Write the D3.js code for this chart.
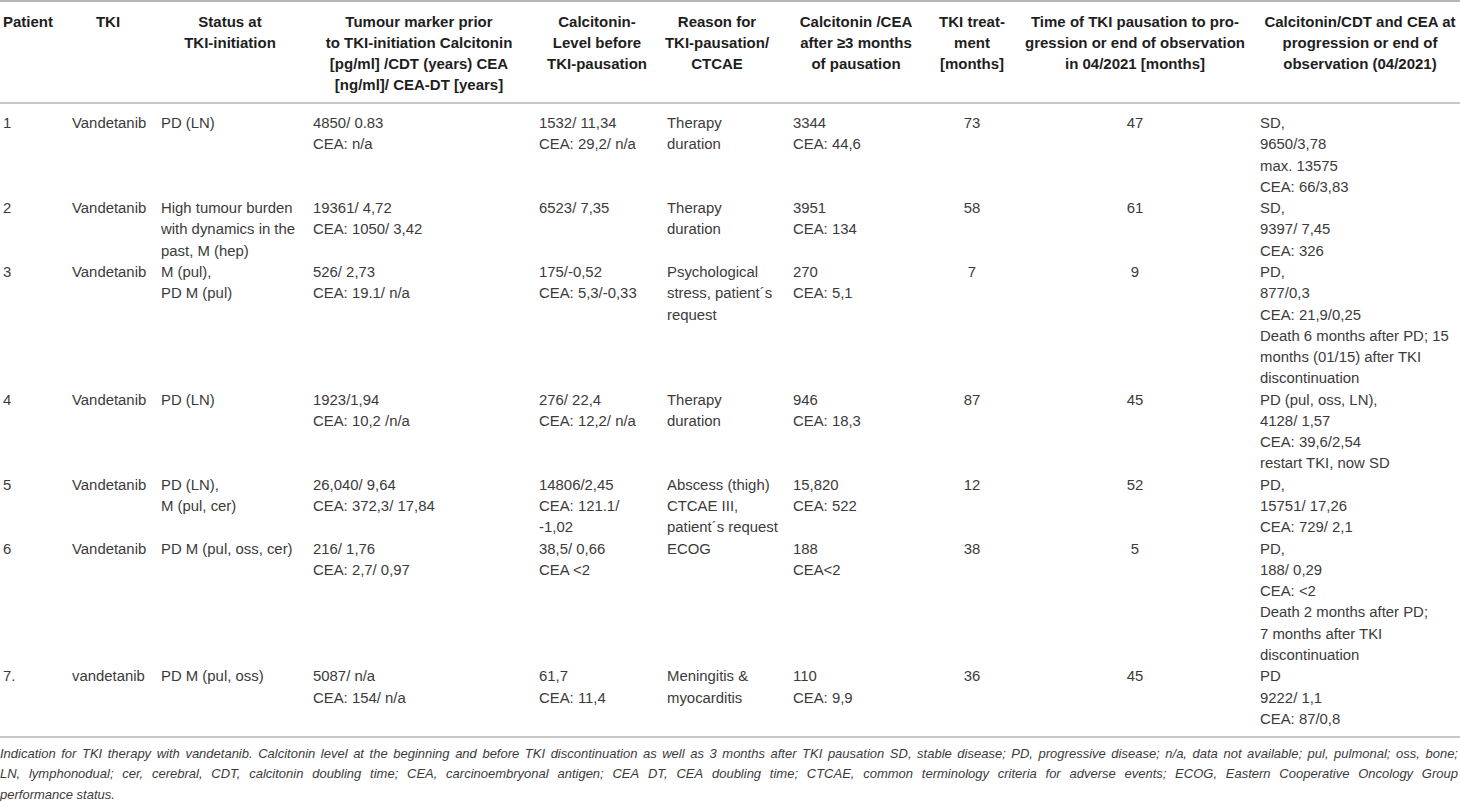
<!DOCTYPE html>
<html>
<head>
<meta charset="utf-8">
<script src="https://cdn.jsdelivr.net/npm/d3@7"></script>
<style>
  html, body { margin: 0; padding: 0; background: #fff; }
  svg { display: block; font-family: "Liberation Sans", Arial, sans-serif; }
</style>
</head>
<body>
<div id="table"></div>
<script>
// header lines per column
var headers = [
  ['Patient'],
  ['TKI'],
  ['Status at', 'TKI-initiation'],
  ['Tumour marker prior', 'to TKI-initiation Calcitonin', '[pg/ml] /CDT (years) CEA', '[ng/ml]/ CEA-DT [years]'],
  ['Calcitonin-', 'Level before', 'TKI-pausation'],
  ['Reason for', 'TKI-pausation/', 'CTCAE'],
  ['Calcitonin /CEA', 'after \u22653 months', 'of pausation'],
  ['TKI treat-', 'ment', '[months]'],
  ['Time of TKI pausation to pro-', 'gression or end of observation', 'in 04/2021 [months]'],
  ['Calcitonin/CDT and CEA at', 'progression or end of', 'observation (04/2021)']
]

// one array per column, one entry per patient
var patients = ['1', '2', '3', '4', '5', '6', '7.']
var tki = ['Vandetanib', 'Vandetanib', 'Vandetanib', 'Vandetanib', 'Vandetanib', 'Vandetanib', 'vandetanib']
var statusInit = [
  ['PD (LN)'],
  ['High tumour burden', 'with dynamics in the', 'past, M (hep)'],
  ['M (pul),', 'PD M (pul)'],
  ['PD (LN)'],
  ['PD (LN),', 'M (pul, cer)'],
  ['PD M (pul, oss, cer)'],
  ['PD M (pul, oss)']
]
var markerPrior = [
  ['4850/ 0.83', 'CEA: n/a'],
  ['19361/ 4,72', 'CEA: 1050/ 3,42'],
  ['526/ 2,73', 'CEA: 19.1/ n/a'],
  ['1923/1,94', 'CEA: 10,2 /n/a'],
  ['26,040/ 9,64', 'CEA: 372,3/ 17,84'],
  ['216/ 1,76', 'CEA: 2,7/ 0,97'],
  ['5087/ n/a', 'CEA: 154/ n/a']
]
var calcBefore = [
  ['1532/ 11,34', 'CEA: 29,2/ n/a'],
  ['6523/ 7,35'],
  ['175/-0,52', 'CEA: 5,3/-0,33'],
  ['276/ 22,4', 'CEA: 12,2/ n/a'],
  ['14806/2,45', 'CEA: 121.1/', '-1,02'],
  ['38,5/ 0,66', 'CEA <2'],
  ['61,7', 'CEA: 11,4']
]
var reason = [
  ['Therapy', 'duration'],
  ['Therapy', 'duration'],
  ['Psychological', 'stress, patient\u00b4s', 'request'],
  ['Therapy', 'duration'],
  ['Abscess (thigh)', 'CTCAE III,', 'patient\u00b4s request'],
  ['ECOG'],
  ['Meningitis &', 'myocarditis']
]
var calcAfter = [
  ['3344', 'CEA: 44,6'],
  ['3951', 'CEA: 134'],
  ['270', 'CEA: 5,1'],
  ['946', 'CEA: 18,3'],
  ['15,820', 'CEA: 522'],
  ['188', 'CEA<2'],
  ['110', 'CEA: 9,9']
]
var tkiMonths = [73, 58, 7, 87, 12, 38, 36]
var pauseMonths = [47, 61, 9, 45, 52, 5, 45]
var endStatus = [
  ['SD,', '9650/3,78', 'max. 13575', 'CEA: 66/3,83'],
  ['SD,', '9397/ 7,45', 'CEA: 326'],
  ['PD,', '877/0,3', 'CEA: 21,9/0,25', 'Death 6 months after PD; 15', 'months (01/15) after TKI', 'discontinuation'],
  ['PD (pul, oss, LN),', '4128/ 1,57', 'CEA: 39,6/2,54', 'restart TKI, now SD'],
  ['PD,', '15751/ 17,26', 'CEA: 729/ 2,1'],
  ['PD,', '188/ 0,29', 'CEA: <2', 'Death 2 months after PD;', '7 months after TKI', 'discontinuation'],
  ['PD', '9222/ 1,1', 'CEA: 87/0,8']
]

var footnote = [
  'Indication for TKI therapy with vandetanib. Calcitonin level at the beginning and before TKI discontinuation as well as 3 months after TKI pausation SD, stable disease; PD, progressive disease; n/a, data not available; pul, pulmonal; oss, bone;',
  'LN, lymphonodual; cer, cerebral, CDT, calcitonin doubling time; CEA, carcinoembryonal antigen; CEA DT, CEA doubling time; CTCAE, common terminology criteria for adverse events; ECOG, Eastern Cooperative Oncology Group',
  'performance status.'
]

var width = 1460, height = 801
var lineH = 21.28
var ruleColor = '#b4b4b4'
var textColor = '#3b3b3b'

// column layout: where body text sits and where the header is centred
var cols = [
  {data: patients,    x: 3,    hx: 3,    anchor: 'start', hanchor: 'start'},
  {data: tki,         x: 72,   hx: 108,  anchor: 'start'},
  {data: statusInit,  x: 161,  hx: 230,  anchor: 'start'},
  {data: markerPrior, x: 313,  hx: 419,  anchor: 'start'},
  {data: calcBefore,  x: 539,  hx: 597,  anchor: 'start'},
  {data: reason,      x: 667,  hx: 717,  anchor: 'start'},
  {data: calcAfter,   x: 793,  hx: 856,  anchor: 'start'},
  {data: tkiMonths,   x: 972,  hx: 972,  anchor: 'middle'},
  {data: pauseMonths, x: 1135, hx: 1135, anchor: 'middle'},
  {data: endStatus,   x: 1260, hx: 1360, anchor: 'start'}
]

var asLines = v => Array.isArray(v) ? v : [String(v)]

// rows are as tall as their longest cell
var rows = patients.map((p, i) => ({
  cells: cols.map(c => asLines(c.data[i])),
}))
var start = 0
rows.forEach(r => {
  r.n = d3.max(r.cells, c => c.length)
  r.start = start
  start += r.n
})
var totalLines = start

var yHead = d3.scaleLinear().domain([0, 1]).range([21, 21 + lineH])
var yBody = d3.scaleLinear().domain([0, totalLines]).range([123, 123 + totalLines * lineH])

var svg = d3.select('#table').append('svg')
    .attr('width', width)
    .attr('height', height)
    .attr('viewBox', [0, 0, width, height])

// horizontal rules
var rules = [1, 103, 737]
svg.selectAll('.rule')
    .data(rules)
  .enter().append('line')
    .attr('class', 'rule')
    .attr('x1', 0).attr('x2', width)
    .attr('y1', d => d).attr('y2', d => d)
    .attr('stroke', ruleColor)
    .attr('stroke-width', (d, i) => i == 0 ? 2 : 1.5)

// header
var head = svg.append('g').attr('class', 'head')
head.selectAll('text')
    .data(headers)
  .enter().append('text')
    .attr('x', (d, i) => cols[i].hx)
    .attr('text-anchor', (d, i) => cols[i].hanchor || 'middle')
    .attr('font-weight', 'bold')
    .attr('font-size', 15)
    .attr('fill', '#1e1e1e')
    .each(function(d, i) {
      d3.select(this).selectAll('tspan')
        .data(d)
      .enter().append('tspan')
        .attr('x', cols[i].hx)
        .attr('y', (t, j) => yHead(j) + 5.5)
        .text(t => t)
    })

// body
var body = svg.append('g').attr('class', 'body')
var rowG = body.selectAll('.row')
    .data(rows)
  .enter().append('g')
    .attr('class', 'row')

rowG.selectAll('text')
    .data(r => r.cells.map((lines, ci) => ({lines: lines, col: cols[ci], start: r.start})))
  .enter().append('text')
    .attr('text-anchor', d => d.col.anchor)
    .attr('font-size', 14.9)
    .attr('fill', textColor)
    .each(function(d) {
      d3.select(this).selectAll('tspan')
        .data(d.lines)
      .enter().append('tspan')
        .attr('x', d.col.x)
        .attr('y', (t, j) => yBody(d.start + j) + 5)
        .text(t => t)
    })

// footnote, justified like the source
var footY = d3.scaleLinear().domain([0, 1]).range([757.5, 778])
var foot = svg.append('g').attr('class', 'foot')
    .attr('font-style', 'italic')
    .attr('fill', textColor)

var footSize = 13
var probe = foot.append('text').attr('font-size', footSize).text(footnote[0])
var natural = probe.node().getComputedTextLength()
probe.remove()
if (natural > width - 3) footSize = footSize * (width - 3) / natural

footnote.forEach(function(line, i) {
  var words = line.split(' ')
  var g = foot.append('g')
  var texts = g.selectAll('text')
      .data(words)
    .enter().append('text')
      .attr('font-size', footSize)
      .attr('y', footY(i))
      .text(w => w)
  var widths = []
  texts.each(function() { widths.push(this.getComputedTextLength()) })
  var space = footSize * 0.278
  var last = i == footnote.length - 1
  if (!last) space = (width - 2 - d3.sum(widths)) / (words.length - 1)
  var x = 0
  texts.attr('x', (w, k) => { var p = x; x += widths[k] + space; return p })
})
</script>
</body>
</html>
